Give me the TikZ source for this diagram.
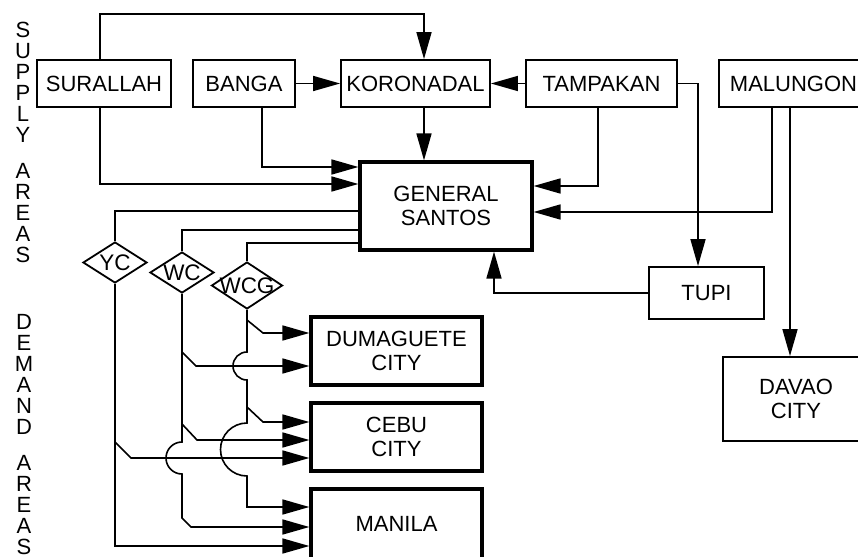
\documentclass[tikz,border=0pt]{standalone}
\usepackage{fontspec}
\setmainfont{Liberation Sans}
\usetikzlibrary{arrows.meta,shapes.geometric}
\begin{document}
\begin{tikzpicture}[x=1pt,y=-1pt,
  line width=1.6pt,
  box/.style={draw, line width=1.8pt, inner sep=0pt, align=center,
    font=\fontsize{22}{24}\selectfont},
  bigbox/.style={box, line width=3.2pt},
  choice/.style={draw, diamond, line width=1.8pt, inner sep=0pt},
  ctext/.style={font=\fontsize{22.5}{24}\selectfont, inner sep=0pt},
  arr/.style={-{Triangle[length=27pt,width=15pt]}},
  side/.style={inner sep=0pt, align=center, anchor=north,
    font=\fontsize{22}{21}\selectfont},
]
\clip (0,0) rectangle (858,556);

% side captions
\node[side] (supply) at (23,21) {S\\U\\P\\P\\L\\Y\\[15pt]A\\R\\E\\A\\S};
\node[side] (demand) at (24,314) {D\\E\\M\\A\\N\\D\\[15pt]A\\R\\E\\A\\S};

% supply areas
\node[box, minimum width=134pt, minimum height=47pt] (surallah) at (104,83.5) {SURALLAH};
\node[box, minimum width=102pt, minimum height=47pt] (banga) at (244,83.5) {BANGA};
\node[box, minimum width=149pt, minimum height=47pt] (koronadal) at (415.5,83.5) {KORONADAL};
\node[box, minimum width=151pt, minimum height=47pt] (tampakan) at (601.5,83.5) {TAMPAKAN};
\node[box, minimum width=149pt, minimum height=47pt] (malungon) at (793.5,83.5) {MALUNGON};
\node[bigbox, minimum width=172pt, minimum height=88pt] (gs) at (446,206) {GENERAL\\SANTOS};
\node[box, minimum width=115pt, minimum height=52pt] (tupi) at (706.5,293) {TUPI};
\node[box, minimum width=146pt, minimum height=84pt] (davao) at (796,399) {DAVAO\\CITY};

% carriers
\node[choice, minimum width=64pt, minimum height=41pt, label={[ctext]center:YC}] (yc) at (115,262.5) {};
\node[choice, minimum width=64pt, minimum height=41pt, label={[ctext]center:WC}] (wc) at (182,272.5) {};
\node[choice, minimum width=71pt, minimum height=47pt, label={[ctext]center:WCG}] (wcg) at (247,285.5) {};

% demand areas
\node[bigbox, minimum width=171pt, minimum height=68pt] (dum) at (396.5,351) {DUMAGUETE\\CITY};
\node[bigbox, minimum width=171pt, minimum height=68pt] (cebu) at (396.5,437) {CEBU\\CITY};
\node[bigbox, minimum width=171pt, minimum height=70pt] (manila) at (396.5,524) {MANILA};

% supply flows
\draw[arr] ([xshift=-4pt]surallah.north) -- ++(0,-45) -| ([xshift=8.5pt]koronadal.north);
\draw[arr] (banga.east) -- (koronadal.west);
\draw[arr] (tampakan.west) -- (koronadal.east);
\coordinate (kor-out) at ([xshift=8.5pt]koronadal.south);
\draw[arr] (kor-out) -- (kor-out |- gs.north);
\draw[arr] ([xshift=18pt]banga.south) |- ([yshift=39pt]gs.west);
\draw[arr] ([xshift=-4pt]surallah.south) |- ([yshift=22pt]gs.west);
\draw[arr] ([xshift=-3.5pt]tampakan.south) |- ([yshift=20pt]gs.east);
\draw[arr] ([xshift=-21.5pt]malungon.south) |- ([yshift=-6pt]gs.east);
\draw[arr] (tampakan.east) -| ([xshift=-8.5pt]tupi.north);
\coordinate (mal-out) at ([xshift=-3.5pt]malungon.south);
\draw[arr] (mal-out) -- (mal-out |- davao.north);
\draw[arr] (tupi.west) -| ([xshift=48pt]gs.south);

% shipments to carriers
\draw ([yshift=-5pt]gs.west) -| (yc.north);
\draw ([yshift=-24pt]gs.west) -| (wc.north);
\draw ([yshift=-37pt]gs.west) -| (wcg.north);

% WCG routes
\draw[arr] (wcg.south) -- (247,352) arc[start angle=90,end angle=270,radius=14pt]
  -- (247,423) arc[start angle=90,end angle=270,radius=26.5pt]
  |- ([yshift=17pt]manila.west);
\draw[arr] (247,320) -- (263,333) -- ([yshift=18pt]dum.west);
\draw[arr] (247,407) -- (263,422) -- ([yshift=15pt]cebu.west);

% WC routes
\draw[arr] (wc.south) -- (182,442) arc[start angle=90,end angle=270,radius=16pt]
  -- (182,518) -- (191,527) -- ([yshift=-3pt]manila.west);
\draw[arr] (182,352) -- (196,366) -- ([yshift=-15pt]dum.west);
\draw[arr] (182,424) -- (197,440) -- ([yshift=-3pt]cebu.west);

% YC routes
\draw[arr] (yc.south) |- ([yshift=-22pt]manila.west);
\draw[arr] (115,442) -- (131,458) -- ([yshift=-21pt]cebu.west);
\end{tikzpicture}
\end{document}
